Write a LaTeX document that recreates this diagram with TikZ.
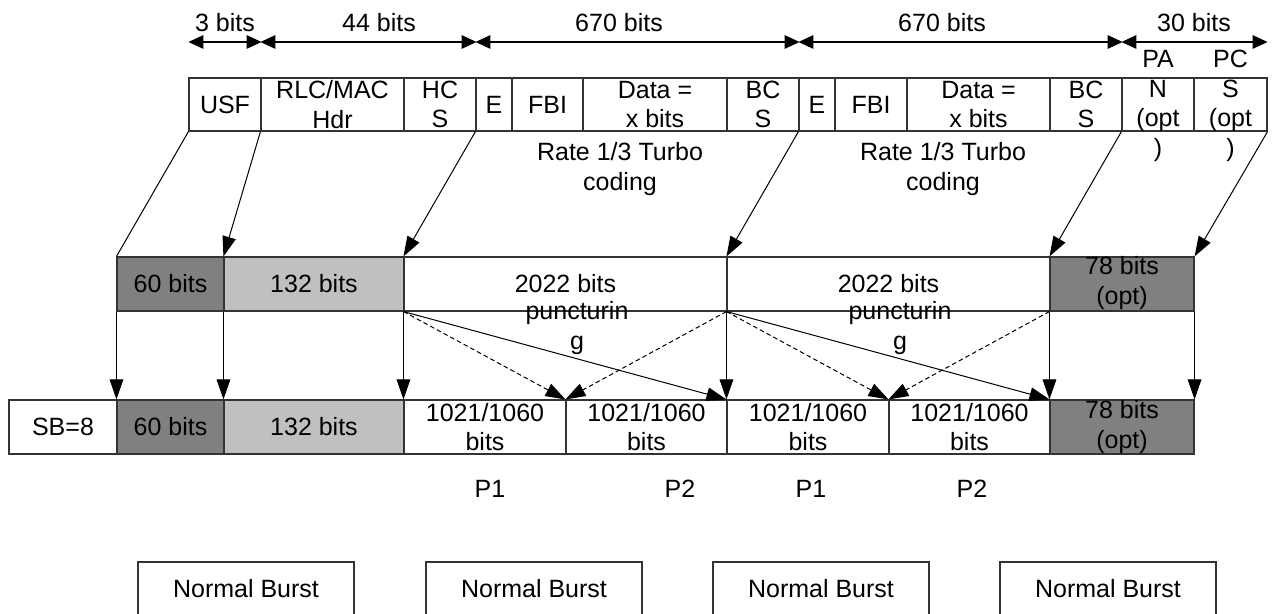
\documentclass[tikz,border=0pt]{standalone}
\usepackage{fontspec}
\setmainfont{Liberation Sans}
\usetikzlibrary{arrows.meta}
\definecolor{dk}{RGB}{128,128,128}
\definecolor{lt}{RGB}{192,192,192}
\begin{document}
\begin{tikzpicture}[x=0.5pt,y=-0.5pt,
  every node/.style={font=\fontsize{12.5}{14.75}\selectfont},
  cell/.style={draw=black!80, line width=0.55pt, inner sep=0pt, minimum height=26.5pt},
  cellm/.style={cell, minimum height=27pt},
  txt/.style={inner sep=0pt, align=center},
  con/.style={line width=0.5pt, -{Triangle[length=10pt,width=6.8pt]}},
  plain/.style={line width=0.5pt},
  dsh/.style={con, dash pattern=on 2.3pt off 1.5pt},
  dim/.style={line width=0.55pt, {Triangle[length=7.5pt,width=6.8pt]}-{Triangle[length=7.5pt,width=6.8pt]}}
]
\useasboundingbox (0,0) rectangle (1274,614);
\coordinate (dl) at (0,42);

% ---- top row ----
\node[cell, minimum width=36pt] (usf) at (225,104.5) {USF};
\node[cell, minimum width=71.5pt] (rlc) at (332.5,104.5) {};
\node[txt] (rlct) at (rlc) {RLC/MAC\\Hdr};
\node[cell, minimum width=36pt] (hcs) at (440,104.5) {};
\node[txt] (hcst) at (hcs) {HC\\S};
\node[cell, minimum width=18pt] (ea) at (494,104.5) {E};
\node[cell, minimum width=35.5pt] (fbia) at (547.5,104.5) {FBI};
\node[cell, minimum width=72pt] (dataa) at (655,104.5) {};
\node[txt] (dataat) at (dataa) {Data =\\x bits};
\node[cell, minimum width=36pt] (bcsa) at (763,104.5) {};
\node[txt] (bcsat) at (bcsa) {BC\\S};
\node[cell, minimum width=18pt] (eb) at (817,104.5) {E};
\node[cell, minimum width=36pt] (fbib) at (871,104.5) {FBI};
\node[cell, minimum width=71.5pt] (datab) at (978.5,104.5) {};
\node[txt] (databt) at (datab) {Data =\\x bits};
\node[cell, minimum width=36pt] (bcsb) at (1086,104.5) {};
\node[txt] (bcsbt) at (bcsb) {BC\\S};
\node[cell, minimum width=36pt] (pan) at (1158,104.5) {};
\node[txt] (pant) at (1158,106) {PA\\N\\(opt\\)};
\node[cell, minimum width=36.5pt] (pcs) at (1230.5,104.5) {};
\node[txt] (pcst) at (1230.5,106) {PC\\S\\(opt\\)};

\node[txt] (turboa) at (620,169) {Rate 1/3 Turbo\\coding};
\node[txt] (turbob) at (943,169) {Rate 1/3 Turbo\\coding};

% ---- dimension arrows ----
\draw[dim] (usf.north west |- dl) -- (usf.north east |- dl);
\draw[dim] (rlc.north west |- dl) -- (hcs.north east |- dl);
\draw[dim] (ea.north west |- dl) -- (bcsa.north east |- dl);
\draw[dim] (eb.north west |- dl) -- (bcsb.north east |- dl);
\draw[dim] (pan.north west |- dl) -- (pcs.north east |- dl);
\node (d3) at (225,23) {3 bits};
\node (d44) at (379,23) {44 bits};
\node (d670a) at (619,23) {670 bits};
\node (d670b) at (942,23) {670 bits};
\node (d30) at (1194,23) {30 bits};

% ---- middle row ----
\node[cellm, fill=dk, minimum width=53.5pt] (m60) at (170.5,284) {60 bits};
\node[cellm, fill=lt, minimum width=90pt] (m132) at (314,284) {132 bits};
\node[cellm, minimum width=161.5pt] (m2a) at (565.5,284) {2022 bits};
\node[cellm, minimum width=161.5pt] (m2b) at (888.5,284) {2022 bits};
\node[cellm, fill=dk, minimum width=72pt] (m78) at (1122,284) {};
\node[txt] (m78t) at (1122,283) {78 bits\\(opt)};
\node[txt] (puna) at (577,328) {puncturin\\g};
\node[txt] (punb) at (900,328) {puncturin\\g};

% ---- bottom row ----
\node[cellm, minimum width=54pt] (sb) at (63,427) {SB=8};
\node[cellm, fill=dk, minimum width=53.5pt] (b60) at (170.5,427) {60 bits};
\node[cellm, fill=lt, minimum width=90pt] (b132) at (314,427) {132 bits};
\node[cellm, minimum width=81pt] (p1a) at (485,427) {};
\node[txt] (p1at) at (p1a) {1021/1060\\bits};
\node[cellm, minimum width=80.5pt] (p2a) at (646.5,427) {};
\node[txt] (p2at) at (p2a) {1021/1060\\bits};
\node[cellm, minimum width=81pt] (p1b) at (808,427) {};
\node[txt] (p1bt) at (p1b) {1021/1060\\bits};
\node[cellm, minimum width=80.5pt] (p2b) at (969.5,427) {};
\node[txt] (p2bt) at (p2b) {1021/1060\\bits};
\node[cellm, fill=dk, minimum width=72pt] (b78) at (1122,427) {};
\node[txt] (b78t) at (1122,427) {78 bits\\(opt)};

\node (lp1a) at (490,489) {P1};
\node (lp2a) at (680,489) {P2};
\node (lp1b) at (811,489) {P1};
\node (lp2b) at (972,489) {P2};

% ---- normal bursts ----
\node[cellm, minimum width=108pt] (nb1) at (246,589) {Normal Burst};
\node[cellm, minimum width=108pt] (nb2) at (534,589) {Normal Burst};
\node[cellm, minimum width=108pt] (nb3) at (821,589) {Normal Burst};
\node[cellm, minimum width=108pt] (nb4) at (1108,589) {Normal Burst};

% ---- top -> middle ----
\draw[plain] (usf.south west) -- (m60.north west);
\draw[con] (rlc.south west) -- (m132.north west);
\draw[con] (ea.south west) -- (m2a.north west);
\draw[con] (eb.south west) -- (m2b.north west);
\draw[con] (pan.south west) -- (m78.north west);
\draw[con] (pcs.south east) -- (m78.north east);

% ---- middle -> bottom ----
\draw[con] (m60.south west) -- (b60.north west);
\draw[con] (m132.south west) -- (b132.north west);
\draw[con] (m2a.south west) -- (p1a.north west);
\draw[con] (m2b.south west) -- (p1b.north west);
\draw[con] (m78.south west) -- (b78.north west);
\draw[con] (m78.south east) -- (b78.north east);

\draw[dsh] (m2a.south west) -- (p2a.north west);
\draw[dsh] (m2b.south west) -- (p2a.north west);
\draw[dsh] (m2b.south west) -- (p2b.north west);
\draw[dsh] (m78.south west) -- (p2b.north west);
\draw[con] (m2a.south west) -- (p1b.north west);
\draw[con] (m2b.south west) -- (b78.north west);
\end{tikzpicture}
\end{document}
